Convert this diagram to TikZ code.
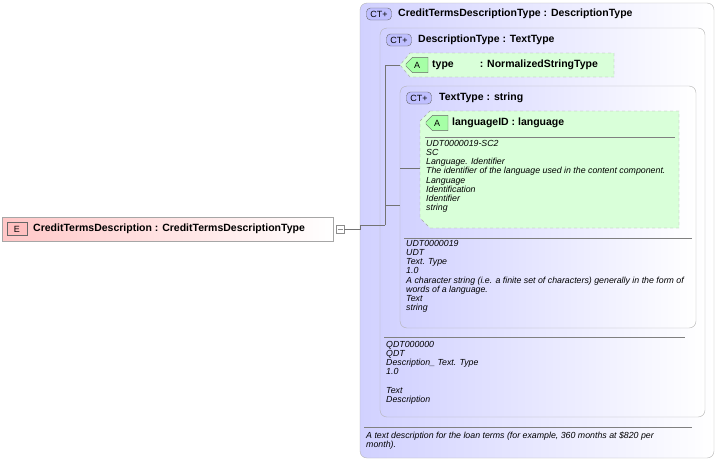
\documentclass[tikz,border=0pt]{standalone}
\usepackage{fontspec}
\setmainfont{Liberation Sans}
\usetikzlibrary{shapes.misc}
\begin{document}
\begin{tikzpicture}[x=1pt,y=-1pt,
  ctbox/.style={draw=black!30,rounded corners=7pt,left color=blue!18,right color=white},
  attr/.style={draw=black!35,dashed,fill=green!15},
  badge/.style={draw=black!60,rounded corners=4pt,fill=blue!25,inner sep=1pt,font=\fontsize{9}{9}\selectfont,minimum width=25pt,minimum height=12pt},
  abadge/.style={draw=black!60,fill=green!35,inner sep=1pt,font=\fontsize{9}{9}\selectfont,minimum width=22pt,minimum height=13pt,chamfered rectangle,chamfered rectangle xsep=3pt,chamfered rectangle corners={north west,south west}},
  hdr/.style={anchor=west,font=\fontsize{10.5}{10.5}\selectfont\bfseries,inner sep=0},
  doc/.style={anchor=north west,font=\fontsize{8.8}{9.2}\selectfont\itshape,inner sep=0,align=left},
  conn/.style={draw=black!55,line width=0.5pt},
  sep/.style={draw=black!50}]
\useasboundingbox (0,0) rectangle (717,461);
% outer
\path[ctbox] (360,3) rectangle (714,458);
\node[badge] (b1) at (379,14) {CT+};
\node[hdr] (h1) at (398,14) {CreditTermsDescriptionType : DescriptionType};
\path[ctbox] (380,28) rectangle (705,417);
\node[badge] (b2) at (399,40) {CT+};
\node[hdr] (h2) at (418,40) {DescriptionType : TextType};
% type attr
\path[attr] (410,53) -- (614,53) -- (614,77) -- (410,77) -- (400,65) -- cycle;
\node[abadge] (a1) at (417,65) {A};
\node[hdr] (t1) at (432,65) {type\hspace{26pt}: NormalizedStringType};
% TextType
\path[ctbox] (400,86) rectangle (696,328);
\node[badge] (b3) at (419,98) {CT+};
\node[hdr] (h3) at (439,98) {TextType : string};
\path[attr] (430,111) -- (679,111) -- (679,228) -- (430,228) -- (420,218) -- (420,121) -- cycle;
\node[abadge] (a2) at (437,123) {A};
\node[hdr] (t2) at (452,123) {languageID : language};
\draw[sep] (425,137) -- (675,137);
\node[doc] (d1) at (426,140) {UDT0000019-SC2\\SC\\Language. Identifier\\The identifier of the language used in the content component.\\Language\\Identification\\Identifier\\string};
\draw[sep] (404,238) -- (692,238);
\node[doc] (d2) at (406,240) {UDT0000019\\UDT\\Text. Type\\1.0\\A character string (i.e. a finite set of characters) generally in the form of\\words of a language.\\Text\\string};
\draw[sep] (384,337) -- (685,337);
\node[doc] (d3) at (386,341) {QDT000000\\QDT\\Description\_ Text. Type\\1.0\\\\Text\\Description};
\draw[sep] (364,427) -- (692,427);
\node[doc] (d4) at (366,432) {A text description for the loan terms (for example, 360 months at \$820 per\\month).};
% element
\path[draw=black!35,left color=red!22,right color=white] (2,217) rectangle (333,241);
\node[draw=black!60,fill=red!25,minimum width=20pt,minimum height=13pt,inner sep=0,font=\fontsize{9}{9}\selectfont] (e) at (17,229) {E};
\node[hdr] (et) at (33,229) {CreditTermsDescription : CreditTermsDescriptionType};
\node[draw=black!45,fill=white,minimum size=8pt,inner sep=0] (m) at (340,229) {};
\draw[black!45] (337.5,229) -- (342.5,229);
% connectors
\coordinate (j) at (385,225);
\draw[conn] (m.east) -- (360,229) -- (360,225) -- (j);
\draw[conn] (j) -- (385,65) -- (400,65);
\draw[conn] (385,205) -- (400,205);
\draw[conn] (400,168) -- (420,168);
\end{tikzpicture}
\end{document}
